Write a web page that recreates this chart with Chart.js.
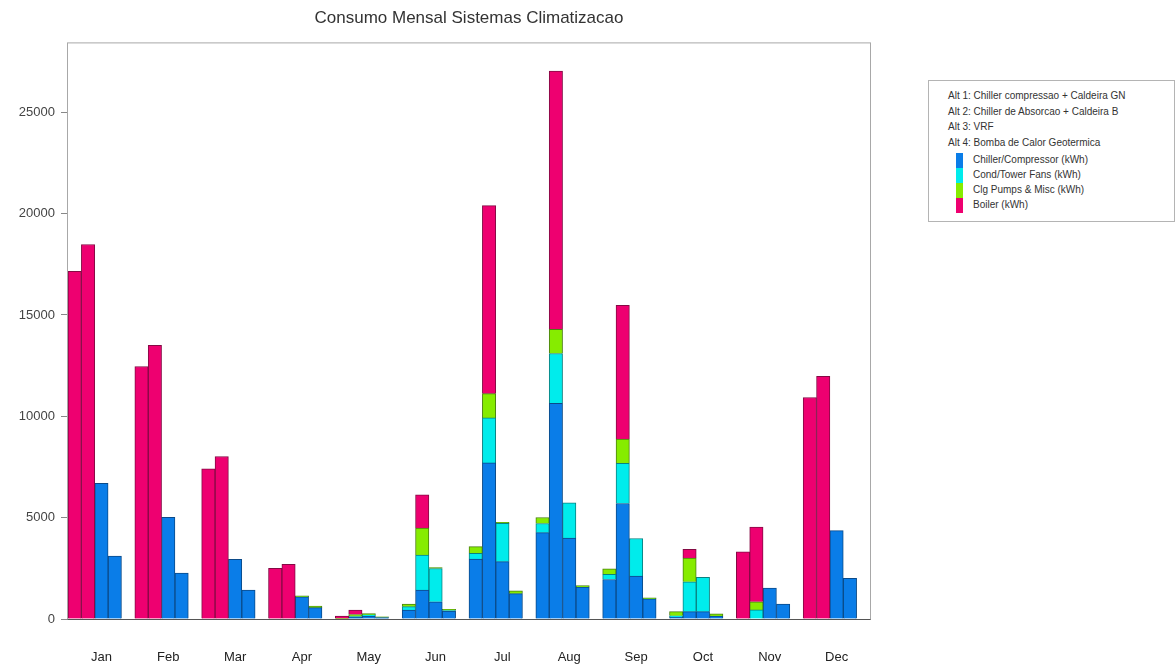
<!DOCTYPE html>
<html>
<head>
<meta charset="utf-8">
<script src="https://cdn.jsdelivr.net/npm/chart.js@4/dist/chart.umd.min.js"></script>
<style>
  body { margin: 0; background: #fff; }
  #wrap { position: relative; width: 1176px; height: 672px; }
  #legendBox {
    position: absolute; left: 928px; top: 80px; width: 247px; height: 142px;
    border: 1px solid #b4b4b4; box-sizing: border-box; background: #fff;
    font-family: 'Liberation Sans', Arial, sans-serif; font-size: 10px; color: #333;
  }
  .lg { position: absolute; white-space: nowrap; line-height: 12px; }
  .sw { position: absolute; left: 27px; width: 7px; height: 15px; }
</style>
</head>
<body>
<div id="wrap">
  <canvas id="consumoChart" width="1176" height="672"></canvas>
  <div id="legendBox"></div>
</div>
<script>
// months
var months = ['Jan', 'Feb', 'Mar', 'Apr', 'May', 'Jun', 'Jul', 'Aug', 'Sep', 'Oct', 'Nov', 'Dec'];
var yTicks = [0, 5000, 10000, 15000, 20000, 25000];

var altNames = [
  'Alt 1: Chiller compressao + Caldeira GN',
  'Alt 2: Chiller de Absorcao + Caldeira B',
  'Alt 3: VRF',
  'Alt 4: Bomba de Calor Geotermica'
];
var componentNames = ['Chiller/Compressor (kWh)', 'Cond/Tower Fans (kWh)', 'Clg Pumps & Misc (kWh)', 'Boiler (kWh)'];

// Alt 1
var chillerA1 = [0, 0, 0, 0, 0, 440, 2960, 4260, 1950, 100, 0, 0];
var fansA1    = [0, 0, 0, 0, 0, 170, 280, 450, 250, 60, 0, 0];
var pumpsA1   = [0, 0, 0, 0, 30, 130, 330, 300, 270, 200, 0, 0];
var boilerA1  = [17150, 12460, 7410, 2500, 120, 0, 0, 0, 0, 0, 3320, 10930];
// Alt 2
var chillerA2 = [0, 0, 0, 0, 80, 1430, 7700, 10640, 5700, 360, 0, 0];
var fansA2    = [0, 0, 0, 0, 40, 1730, 2220, 2460, 1980, 1480, 450, 0];
var pumpsA2   = [0, 0, 0, 0, 100, 1320, 1200, 1190, 1200, 1160, 400, 0];
var boilerA2  = [18480, 13500, 8020, 2700, 220, 1650, 9280, 12750, 6600, 440, 3680, 11970];
// Alt 3
var chillerA3 = [6700, 5020, 2950, 1100, 150, 850, 2830, 3990, 2120, 360, 1520, 4360];
var fansA3    = [0, 0, 0, 0, 50, 1640, 1890, 1745, 1850, 1700, 0, 0];
var pumpsA3   = [0, 0, 0, 40, 70, 50, 50, 0, 0, 0, 0, 0];
var boilerA3  = [0, 0, 0, 0, 0, 0, 0, 0, 0, 0, 0, 0];
// Alt 4
var chillerA4 = [3100, 2260, 1430, 560, 70, 390, 1250, 1570, 990, 150, 740, 2010];
var fansA4    = [0, 0, 0, 0, 0, 30, 0, 0, 0, 0, 0, 0];
var pumpsA4   = [0, 0, 0, 80, 40, 60, 140, 80, 60, 100, 0, 0];
var boilerA4  = [0, 0, 0, 0, 0, 0, 0, 0, 0, 0, 0, 0];

var colors  = ['#0a7de8', '#00ecec', '#86ec00', '#ee0070'];
var borders = ['#0b4a88', '#0a8080', '#4a8010', '#840a44'];

var altData = [
  [chillerA1, fansA1, pumpsA1, boilerA1],
  [chillerA2, fansA2, pumpsA2, boilerA2],
  [chillerA3, fansA3, pumpsA3, boilerA3],
  [chillerA4, fansA4, pumpsA4, boilerA4]
];

var datasets = [];
altData.forEach(function (series, a) {
  series.forEach(function (values, c) {
    datasets.push({
      label: 'Alt ' + (a + 1) + ' ' + componentNames[c],
      data: values,
      stack: 'alt' + (a + 1),
      backgroundColor: colors[c],
      borderColor: borders[c],
      borderWidth: { left: 1, right: 1, top: 1, bottom: 0 },
      borderSkipped: 'bottom'
    });
  });
});
// empty slot so every month keeps a gap after its fourth bar
datasets.push({
  label: 'gap',
  data: months.map(function () { return 0; }),
  stack: 'gap',
  backgroundColor: 'rgba(0,0,0,0)',
  borderWidth: 0
});

// legend box (html)
var box = document.getElementById('legendBox');
var lineY = [9, 25, 40, 56];
altNames.forEach(function (t, i) {
  var d = document.createElement('div');
  d.className = 'lg';
  d.style.left = '19px';
  d.style.top = lineY[i] + 'px';
  d.textContent = t;
  box.appendChild(d);
});
componentNames.forEach(function (t, i) {
  var sw = document.createElement('div');
  sw.className = 'sw';
  sw.style.top = (72 + i * 15) + 'px';
  sw.style.background = colors[i];
  box.appendChild(sw);
  var d = document.createElement('div');
  d.className = 'lg';
  d.style.left = '44px';
  d.style.top = (73 + i * 15) + 'px';
  d.textContent = t;
  box.appendChild(d);
});

var frame = {
  id: 'frame',
  afterDraw: function (chart) {
    var a = chart.chartArea, ctx = chart.ctx;
    ctx.save();
    ctx.strokeStyle = '#a8a8a8';
    ctx.lineWidth = 1;
    ctx.strokeRect(a.left - 0.5, a.top + 0.5, a.right - a.left + 1, a.bottom - a.top);
    ctx.strokeStyle = '#555';
    ctx.beginPath();
    ctx.moveTo(a.left - 0.5, a.bottom + 0.5);
    ctx.lineTo(a.right + 0.5, a.bottom + 0.5);
    ctx.stroke();
    ctx.restore();
  }
};

var ctx = document.getElementById('consumoChart').getContext('2d');
new Chart(ctx, {
  type: 'bar',
  data: { labels: months, datasets: datasets },
  options: {
    responsive: false,
    animation: false,
    layout: { padding: { left: 0, right: 306, top: 0, bottom: 0 } },
    datasets: { bar: { categoryPercentage: 1.0, barPercentage: 1.0 } },
    plugins: {
      legend: { display: false },
      tooltip: { enabled: false },
      title: {
        display: true,
        fullSize: false,
        text: 'Consumo Mensal Sistemas Climatizacao',
        color: '#333',
        font: { family: 'Liberation Sans', size: 17, weight: 'normal' },
        padding: { top: 8, bottom: 14 }
      }
    },
    scales: {
      x: {
        stacked: true,
        grid: { display: false, drawTicks: false },
        border: { display: false },
        ticks: { color: '#222', font: { family: 'Liberation Sans', size: 13 }, padding: 31 },
        afterFit: function (scale) { scale.height = 53; }
      },
      y: {
        stacked: true,
        min: 0,
        max: 28450,
        grid: { drawOnChartArea: false, tickLength: 7, color: '#888' },
        border: { display: false },
        ticks: {
          color: '#444',
          font: { family: 'Liberation Sans', size: 13 },
          padding: 6,
          stepSize: 5000,
          callback: function (value) { return String(value); }
        },
        afterBuildTicks: function (scale) {
          scale.ticks = yTicks.map(function (v) { return { value: v }; });
        },
        afterFit: function (scale) { scale.width = 68; }
      }
    }
  },
  plugins: [frame]
});
</script>
</body>
</html>
